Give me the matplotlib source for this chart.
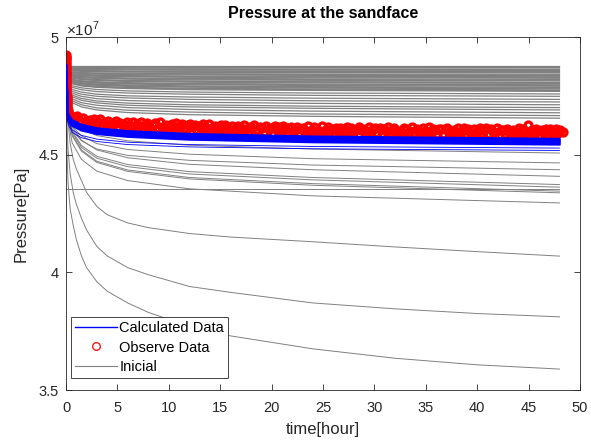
import matplotlib
matplotlib.use('Agg')
import matplotlib.pyplot as plt
from matplotlib.lines import Line2D

plt.rcParams['font.family'] = ['Liberation Sans', 'DejaVu Sans']
plt.rcParams['mathtext.fontset'] = 'custom'
plt.rcParams['mathtext.rm'] = 'Liberation Sans'

# ---------------- data (pressure in units of 1e7 Pa, time in hours) ----------------
t_grid = [0, 0.2, 0.6, 1.5, 3, 6, 12, 24, 48]

inicial_top = [
    [4.875, 4.875, 4.875, 4.875, 4.875, 4.875, 4.875, 4.875, 4.875],
    [4.875, 4.874, 4.874, 4.873, 4.873, 4.873, 4.873, 4.873, 4.873],
    [4.875, 4.872, 4.872, 4.871, 4.871, 4.871, 4.870, 4.870, 4.870],
    [4.875, 4.869, 4.867, 4.866, 4.866, 4.865, 4.865, 4.864, 4.864],
    [4.875, 4.867, 4.865, 4.864, 4.863, 4.863, 4.862, 4.862, 4.861],
    [4.875, 4.866, 4.863, 4.862, 4.861, 4.860, 4.859, 4.859, 4.858],
    [4.875, 4.863, 4.860, 4.858, 4.857, 4.855, 4.855, 4.854, 4.853],
    [4.875, 4.861, 4.858, 4.856, 4.854, 4.853, 4.852, 4.851, 4.850],
    [4.875, 4.860, 4.856, 4.854, 4.852, 4.851, 4.850, 4.849, 4.848],
    [4.875, 4.857, 4.852, 4.849, 4.847, 4.846, 4.844, 4.843, 4.842],
    [4.875, 4.855, 4.850, 4.847, 4.845, 4.843, 4.842, 4.840, 4.839],
    [4.875, 4.854, 4.848, 4.845, 4.842, 4.840, 4.839, 4.837, 4.836],
    [4.875, 4.851, 4.844, 4.841, 4.838, 4.836, 4.834, 4.833, 4.831],
    [4.875, 4.849, 4.842, 4.838, 4.836, 4.833, 4.831, 4.830, 4.828],
    [4.875, 4.848, 4.840, 4.836, 4.833, 4.831, 4.829, 4.827, 4.825],
    [4.875, 4.845, 4.837, 4.832, 4.829, 4.826, 4.824, 4.822, 4.820],
    [4.875, 4.843, 4.834, 4.830, 4.826, 4.823, 4.821, 4.819, 4.817],
    [4.875, 4.841, 4.832, 4.827, 4.824, 4.821, 4.818, 4.816, 4.814],
    [4.875, 4.838, 4.828, 4.823, 4.819, 4.815, 4.813, 4.810, 4.808],
    [4.875, 4.837, 4.827, 4.821, 4.817, 4.814, 4.811, 4.808, 4.806],
    [4.875, 4.835, 4.825, 4.819, 4.815, 4.811, 4.808, 4.805, 4.803],
    [4.875, 4.832, 4.820, 4.814, 4.810, 4.806, 4.802, 4.800, 4.797],
    [4.875, 4.830, 4.818, 4.812, 4.807, 4.803, 4.800, 4.797, 4.794],
    [4.875, 4.829, 4.816, 4.810, 4.804, 4.800, 4.797, 4.794, 4.791],
    [4.875, 4.826, 4.813, 4.806, 4.800, 4.796, 4.792, 4.789, 4.786],
    [4.875, 4.824, 4.811, 4.803, 4.798, 4.793, 4.789, 4.786, 4.783],
    [4.875, 4.823, 4.809, 4.801, 4.795, 4.790, 4.787, 4.783, 4.780],
    [4.875, 4.820, 4.805, 4.797, 4.791, 4.786, 4.782, 4.779, 4.775],
    [4.875, 4.818, 4.803, 4.795, 4.788, 4.783, 4.779, 4.776, 4.772],
    [4.875, 4.817, 4.801, 4.792, 4.786, 4.781, 4.776, 4.773, 4.769],
    [4.875, 4.811, 4.793, 4.784, 4.777, 4.771, 4.766, 4.762, 4.758],
    [4.875, 4.805, 4.786, 4.776, 4.768, 4.762, 4.757, 4.752, 4.748],
    [4.875, 4.798, 4.777, 4.766, 4.757, 4.750, 4.745, 4.740, 4.735],
    [4.875, 4.792, 4.769, 4.757, 4.748, 4.741, 4.735, 4.729, 4.724],
    [4.875, 4.785, 4.761, 4.748, 4.738, 4.730, 4.723, 4.718, 4.712],
    [4.875, 4.779, 4.753, 4.739, 4.728, 4.719, 4.712, 4.706, 4.700],
    [4.875, 4.773, 4.746, 4.731, 4.720, 4.710, 4.703, 4.697, 4.690],
    [4.875, 4.767, 4.737, 4.721, 4.710, 4.700, 4.692, 4.685, 4.678],
    [4.875, 4.760, 4.729, 4.712, 4.699, 4.689, 4.681, 4.673, 4.666],
    [4.875, 4.754, 4.721, 4.703, 4.690, 4.679, 4.670, 4.663, 4.655],
]

inicial_mid = [
    [4.875, 4.709, 4.647, 4.610, 4.581, 4.559, 4.540, 4.524, 4.507],
    [4.875, 4.691, 4.621, 4.580, 4.547, 4.522, 4.502, 4.483, 4.465],
    [4.875, 4.677, 4.603, 4.559, 4.524, 4.497, 4.476, 4.456, 4.436],
    [4.875, 4.698, 4.618, 4.562, 4.520, 4.487, 4.459, 4.436, 4.408],
    [4.875, 4.684, 4.599, 4.539, 4.493, 4.458, 4.428, 4.403, 4.373],
    [4.875, 4.680, 4.593, 4.531, 4.485, 4.449, 4.418, 4.393, 4.362],
    [4.875, 4.674, 4.584, 4.520, 4.472, 4.435, 4.403, 4.377, 4.345],
    [4.875, 4.671, 4.580, 4.515, 4.467, 4.429, 4.397, 4.370, 4.338],
    [4.875, 4.650, 4.550, 4.480, 4.430, 4.390, 4.355, 4.325, 4.295],
]

inicial_flat = [4.356, 4.356, 4.356, 4.356, 4.356, 4.356, 4.356, 4.356, 4.356]

t_low = [0, 0.1, 0.2, 0.4, 0.7, 1, 1.5, 2, 3, 4, 6, 8, 12, 16, 24, 32, 40, 48]
inicial_low = [
    [4.875, 4.72, 4.64, 4.55, 4.48, 4.44, 4.39, 4.34, 4.28, 4.245, 4.21, 4.19, 4.165, 4.15, 4.13, 4.108, 4.088, 4.069],
    [4.875, 4.62, 4.52, 4.42, 4.34, 4.29, 4.23, 4.18, 4.11, 4.07, 4.02, 3.99, 3.94, 3.915, 3.87, 3.845, 3.825, 3.811],
    [4.875, 4.50, 4.38, 4.27, 4.20, 4.14, 4.07, 4.02, 3.96, 3.92, 3.87, 3.83, 3.77, 3.73, 3.675, 3.635, 3.607, 3.589],
]

calc_curves = [
    [4.88, 4.672, 4.647, 4.627, 4.612, 4.600, 4.588, 4.577, 4.567],
    [4.88, 4.668, 4.643, 4.623, 4.608, 4.596, 4.584, 4.573, 4.563],
    [4.88, 4.664, 4.639, 4.619, 4.604, 4.592, 4.580, 4.569, 4.559],
    [4.88, 4.660, 4.635, 4.615, 4.600, 4.588, 4.576, 4.565, 4.555],
    [4.88, 4.656, 4.631, 4.611, 4.596, 4.584, 4.572, 4.561, 4.551],
    [4.88, 4.652, 4.627, 4.607, 4.592, 4.580, 4.568, 4.557, 4.547],
    [4.88, 4.648, 4.623, 4.603, 4.588, 4.576, 4.564, 4.553, 4.543],
]
calc_thin = [
    [4.88, 4.640, 4.605, 4.582, 4.566, 4.553, 4.543, 4.535, 4.528],
    [4.88, 4.630, 4.595, 4.572, 4.556, 4.543, 4.533, 4.525, 4.518],
]

obs_t_early = [0.000, 0.001, 0.002, 0.003, 0.004, 0.005, 0.006, 0.007, 0.008, 0.009,
               0.010, 0.012, 0.014, 0.016, 0.018, 0.020, 0.023, 0.026, 0.030, 0.034,
               0.038, 0.043, 0.049, 0.056, 0.064, 0.073, 0.083, 0.095, 0.11, 0.13,
               0.15, 0.18, 0.21, 0.25, 0.30, 0.35, 0.42]
obs_p_early = [4.925, 4.917, 4.909, 4.901, 4.893, 4.885, 4.877, 4.869, 4.861, 4.853,
               4.845, 4.837, 4.829, 4.821, 4.813, 4.805, 4.797, 4.789, 4.781, 4.773,
               4.765, 4.757, 4.749, 4.741, 4.733, 4.725, 4.717, 4.709, 4.701, 4.694,
               4.688, 4.682, 4.677, 4.672, 4.668, 4.664, 4.660]

obs_t = [
    0.5, 0.7, 0.9, 1.1, 1.3, 1.5, 1.7, 1.9, 2.1, 2.3,
    2.5, 2.7, 2.9, 3.1, 3.3, 3.5, 3.7, 3.9, 4.1, 4.3,
    4.5, 4.7, 4.9, 5.1, 5.3, 5.5, 5.7, 5.9, 6.1, 6.3,
    6.5, 6.7, 6.9, 7.1, 7.3, 7.5, 7.7, 7.9, 8.1, 8.3,
    8.5, 8.7, 8.9, 9.1, 9.3, 9.5, 9.7, 9.9, 10.1, 10.3,
    10.5, 10.7, 10.9, 11.1, 11.3, 11.5, 11.7, 11.9, 12.1, 12.3,
    12.5, 12.7, 12.9, 13.1, 13.3, 13.5, 13.7, 13.9, 14.1, 14.3,
    14.5, 14.7, 14.9, 15.1, 15.3, 15.5, 15.7, 15.9, 16.1, 16.3,
    16.5, 16.7, 16.9, 17.1, 17.3, 17.5, 17.7, 17.9, 18.1, 18.3,
    18.5, 18.7, 18.9, 19.1, 19.3, 19.5, 19.7, 19.9, 20.1, 20.3,
    20.5, 20.7, 20.9, 21.1, 21.3, 21.5, 21.7, 21.9, 22.1, 22.3,
    22.5, 22.7, 22.9, 23.1, 23.3, 23.5, 23.7, 23.9, 24.1, 24.3,
    24.5, 24.7, 24.9, 25.1, 25.3, 25.5, 25.7, 25.9, 26.1, 26.3,
    26.5, 26.7, 26.9, 27.1, 27.3, 27.5, 27.7, 27.9, 28.1, 28.3,
    28.5, 28.7, 28.9, 29.1, 29.3, 29.5, 29.7, 29.9, 30.1, 30.3,
    30.5, 30.7, 30.9, 31.1, 31.3, 31.5, 31.7, 31.9, 32.1, 32.3,
    32.5, 32.7, 32.9, 33.1, 33.3, 33.5, 33.7, 33.9, 34.1, 34.3,
    34.5, 34.7, 34.9, 35.1, 35.3, 35.5, 35.7, 35.9, 36.1, 36.3,
    36.5, 36.7, 36.9, 37.1, 37.3, 37.5, 37.7, 37.9, 38.1, 38.3,
    38.5, 38.7, 38.9, 39.1, 39.3, 39.5, 39.7, 39.9, 40.1, 40.3,
    40.5, 40.7, 40.9, 41.1, 41.3, 41.5, 41.7, 41.9, 42.1, 42.3,
    42.5, 42.7, 42.9, 43.1, 43.3, 43.5, 43.7, 43.9, 44.1, 44.3,
    44.5, 44.7, 44.9, 45.1, 45.3, 45.5, 45.7, 45.9, 46.1, 46.3,
    46.5, 46.7, 46.9, 47.1, 47.3, 47.5, 47.7, 47.9, 48.1, 48.3,
]
obs_p = [
    4.664, 4.642, 4.654, 4.663, 4.642, 4.637, 4.655, 4.642, 4.627, 4.646,
    4.636, 4.650, 4.629, 4.640, 4.650, 4.623, 4.635, 4.627, 4.641, 4.618,
    4.636, 4.629, 4.642, 4.619, 4.636, 4.624, 4.612, 4.637, 4.628, 4.619,
    4.638, 4.617, 4.631, 4.623, 4.639, 4.612, 4.628, 4.633, 4.617, 4.609,
    4.626, 4.634, 4.614, 4.637, 4.619, 4.612, 4.628, 4.608, 4.623, 4.629,
    4.615, 4.633, 4.609, 4.620, 4.629, 4.612, 4.604, 4.624, 4.630, 4.616,
    4.627, 4.603, 4.621, 4.611, 4.630, 4.616, 4.607, 4.631, 4.612, 4.604,
    4.621, 4.617, 4.603, 4.625, 4.607, 4.628, 4.613, 4.603, 4.621, 4.608,
    4.600, 4.622, 4.617, 4.604, 4.624, 4.608, 4.597, 4.618, 4.612, 4.625,
    4.604, 4.600, 4.619, 4.612, 4.597, 4.622, 4.607, 4.615, 4.594, 4.620,
    4.605, 4.616, 4.599, 4.622, 4.608, 4.597, 4.613, 4.619, 4.600, 4.606,
    4.617, 4.594, 4.609, 4.614, 4.601, 4.621, 4.598, 4.603, 4.617, 4.594,
    4.595, 4.602, 4.621, 4.597, 4.605, 4.618, 4.599, 4.609, 4.591, 4.614,
    4.600, 4.613, 4.595, 4.604, 4.619, 4.597, 4.615, 4.592, 4.606, 4.610,
    4.619, 4.605, 4.611, 4.590, 4.601, 4.616, 4.596, 4.609, 4.614, 4.591,
    4.615, 4.588, 4.609, 4.601, 4.616, 4.591, 4.606, 4.612, 4.593, 4.597,
    4.602, 4.595, 4.614, 4.607, 4.591, 4.602, 4.616, 4.593, 4.610, 4.598,
    4.590, 4.613, 4.599, 4.593, 4.616, 4.596, 4.608, 4.603, 4.588, 4.611,
    4.609, 4.587, 4.607, 4.614, 4.595, 4.590, 4.604, 4.598, 4.612, 4.591,
    4.601, 4.614, 4.589, 4.607, 4.596, 4.585, 4.610, 4.593, 4.605, 4.612,
    4.592, 4.603, 4.615, 4.587, 4.608, 4.598, 4.593, 4.612, 4.585, 4.603,
    4.605, 4.589, 4.610, 4.596, 4.586, 4.606, 4.600, 4.591, 4.612, 4.593,
    4.610, 4.594, 4.627, 4.589, 4.603, 4.586, 4.607, 4.601, 4.583, 4.605,
    4.592, 4.608, 4.587, 4.611, 4.597, 4.590, 4.608, 4.594, 4.603, 4.596,
]

x_ticks = [0, 5, 10, 15, 20, 25, 30, 35, 40, 45, 50]
y_ticks = [3.5, 4.0, 4.5, 5.0]
y_tick_labels = ['3.5', '4', '4.5', '5']

# ---------------- figure ----------------
fig = plt.figure(figsize=(5.91, 4.40), dpi=100)
ax = fig.add_axes([0.1117, 0.1136, 0.8697, 0.8023])

gray = '0.5'
for c in inicial_top:
    ax.plot(t_grid, c, color=gray, lw=0.9, zorder=1)
for c in inicial_mid:
    ax.plot(t_grid, c, color=gray, lw=0.7, zorder=1)
ax.plot(t_grid, inicial_flat, color=gray, lw=0.7, zorder=1)
for c in inicial_low:
    ax.plot(t_low, c, color=gray, lw=0.7, zorder=1)

ax.plot(obs_t_early + obs_t, obs_p_early + obs_p, linestyle='none', marker='o',
        ms=5, mfc='none', mec='r', mew=2.4, zorder=2)

for c in calc_curves:
    ax.plot(t_grid, c, color='b', lw=1.6, zorder=3)
for c in calc_thin:
    ax.plot(t_grid, c, color='b', lw=0.6, zorder=3)

ax.set_xlim(0, 50)
ax.set_ylim(3.5, 5.0)
ax.set_xticks(x_ticks)
ax.set_xticklabels([str(v) for v in x_ticks])
ax.set_yticks(y_ticks)
ax.set_yticklabels(y_tick_labels)
ax.tick_params(direction='in', top=True, right=True, length=4, width=0.6,
               labelsize=10.5, colors='0.15')
ax.tick_params(axis='x', pad=8)
ax.tick_params(axis='y', pad=5)
for s in ax.spines.values():
    s.set_color('0.15')
    s.set_linewidth(0.6)

ax.set_xlabel('time[hour]', fontsize=12, color='0.15', labelpad=5)
ax.set_ylabel('Pressure[Pa]', fontsize=12, color='0.15', labelpad=7)
ax.set_title('Pressure at the sandface', fontsize=11.5, fontweight='bold', pad=14)
ax.text(0.0, 0.993, r'$\times10^{7}$', transform=ax.transAxes, ha='left', va='bottom',
        fontsize=11, color='0.15')

handles = [Line2D([], [], color='b', lw=1.0),
           Line2D([], [], linestyle='none', marker='o', ms=5.5, mfc='none', mec='r', mew=0.9),
           Line2D([], [], color=gray, lw=0.8)]
leg = ax.legend(handles, ['Calculated Data', 'Observe Data', 'Inicial'],
                loc='lower left', bbox_to_anchor=(0.0097, 0.034), borderaxespad=0,
                fontsize=10.5, fancybox=False, framealpha=1, edgecolor='0.15',
                handlelength=2.9, handletextpad=0.15, labelspacing=0.4, borderpad=0.25)
leg.get_frame().set_linewidth(0.6)

fig.savefig('out.png', dpi=100)
